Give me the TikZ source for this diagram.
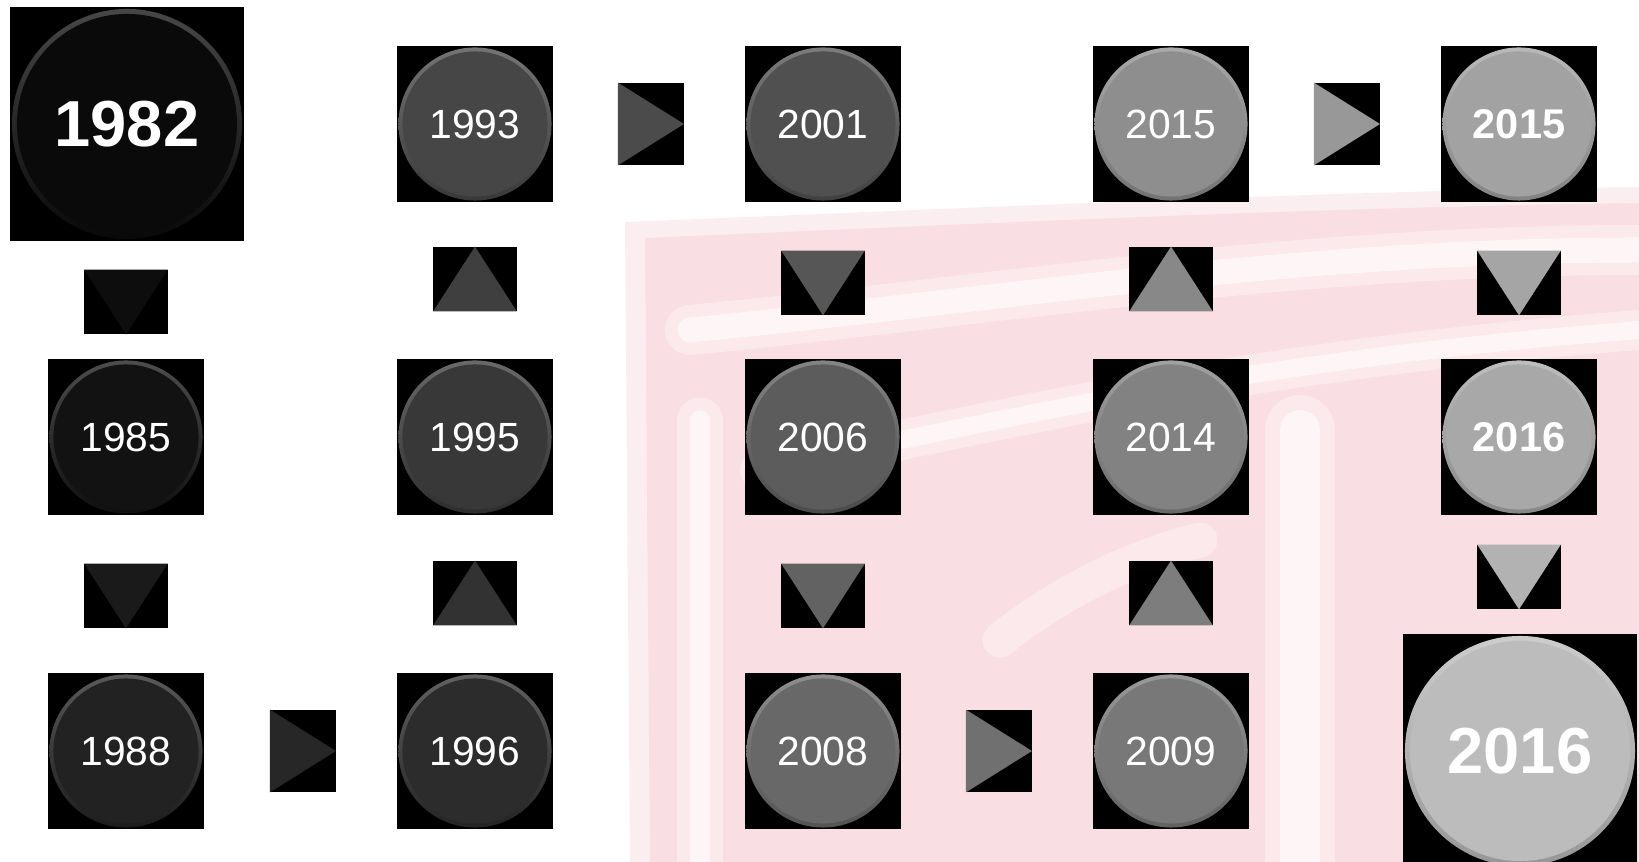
\documentclass[tikz,border=0pt]{standalone}
\usepackage{fontspec}
\setmainfont{Liberation Sans}
\usetikzlibrary{positioning, calc}
\definecolor{wmpink}{HTML}{F9DEE3}
\definecolor{tone1982}{HTML}{0A0A0A}
\definecolor{tone1985}{HTML}{121212}
\definecolor{tone1988}{HTML}{222222}
\definecolor{tone1996}{HTML}{2C2C2C}
\definecolor{tone1995}{HTML}{383838}
\definecolor{tone1993}{HTML}{464646}
\definecolor{tone2001}{HTML}{505050}
\definecolor{tone2006}{HTML}{5C5C5C}
\definecolor{tone2008}{HTML}{686868}
\definecolor{tone2009}{HTML}{787878}
\definecolor{tone2014}{HTML}{828282}
\definecolor{tone2015}{HTML}{8E8E8E}
\definecolor{tone2015b}{HTML}{A2A2A2}
\definecolor{tone2016}{HTML}{A8A8A8}
\definecolor{tone2016b}{HTML}{BCBCBC}
\newcommand{\yearfont}{\fontsize{11.6}{13}\selectfont}
\newcommand{\boldyearfont}{\fontsize{11.8}{13}\selectfont\bfseries}
\newcommand{\bigyearfont}{\fontsize{18.5}{20}\selectfont\bfseries}
\newcommand{\yearring}[3]{%
  \shade[top color=#1!75!white, bottom color=#1!80!black]
    (path picture bounding box.center) circle (#2);
  \fill[#1] (path picture bounding box.center) circle (#3);}
\tikzset{
  yearbox/.style={rectangle, fill=black, inner sep=0pt,
    minimum size=1.557cm, text=white, font=\yearfont,
    path picture={\yearring{#1}{0.765cm}{0.725cm}}},
  bigyear/.style={rectangle, fill=black, inner sep=0pt,
    minimum size=2.33cm, text=white, font=\bigyearfont,
    path picture={\yearring{#1}{1.15cm}{1.10cm}}},
  arrdown/.style={rectangle, fill=black, inner sep=0pt,
    minimum width=0.836cm, minimum height=0.648cm,
    path picture={\fill[#1] (path picture bounding box.north west)
      -- (path picture bounding box.north east)
      -- (path picture bounding box.south) -- cycle;}},
  arrup/.style={rectangle, fill=black, inner sep=0pt,
    minimum width=0.836cm, minimum height=0.648cm,
    path picture={\fill[#1] (path picture bounding box.south west)
      -- (path picture bounding box.south east)
      -- (path picture bounding box.north) -- cycle;}},
  arrright/.style={rectangle, fill=black, inner sep=0pt,
    minimum width=0.66cm, minimum height=0.826cm,
    path picture={\fill[#1] (path picture bounding box.north west)
      -- (path picture bounding box.south west)
      -- (path picture bounding box.east) -- cycle;}},
  streak/.style={white, opacity=0.35, line cap=round},
  core/.style={white, opacity=0.55, line cap=round}
}

\begin{document}
\begin{tikzpicture}[x=0.01cm, y=-0.01cm]
  \useasboundingbox[fill=white] (0,0) rectangle (1639,862);

  % Watermark
  \fill[wmpink, opacity=0.5] (625,222) .. controls (1000,207) and (1300,192) .. (1639,187)
    -- (1639,862) -- (630,862) -- cycle;
  \fill[wmpink] (645,238) .. controls (1000,223) and (1300,208) .. (1639,203)
    -- (1639,862) -- (650,862) -- cycle;
  \draw[streak, line width=0.5cm] (690,330) .. controls (1000,300) and (1300,250) .. (1639,250);
  \draw[core, line width=0.25cm] (690,330) .. controls (1000,300) and (1300,250) .. (1639,250);
  \draw[streak, line width=0.4cm] (760,470) .. controls (1000,420) and (1250,360) .. (1639,330);
  \draw[core, line width=0.18cm] (760,470) .. controls (1000,420) and (1250,360) .. (1639,330);
  \draw[streak, line width=0.7cm] (1300,430) -- (1300,862);
  \draw[core, line width=0.4cm] (1300,430) -- (1300,862);
  \draw[streak, line width=0.45cm] (700,420) -- (700,862);
  \draw[core, line width=0.2cm] (700,420) -- (700,862);
  \draw[streak, line width=0.35cm] (1000,640) .. controls (1050,600) and (1120,560) .. (1200,540);

  % Years, first row
  \node[bigyear=tone1982] (y1982) at (127,124) {1982};
  \node[yearbox=tone1993] (y1993) at (475,124) {1993};
  \node[yearbox=tone2001] (y2001) at (823,124) {2001};
  \node[yearbox=tone2015] (y2015a) at (1171,124) {2015};
  \node[yearbox=tone2015b, font=\boldyearfont] (y2015b) at (1519,124) {2015};

  % Years, second row
  \node[yearbox=tone1985] (y1985) at (126,437) {1985};
  \node[yearbox=tone1995] (y1995) at (475,437) {1995};
  \node[yearbox=tone2006] (y2006) at (823,437) {2006};
  \node[yearbox=tone2014] (y2014) at (1171,437) {2014};
  \node[yearbox=tone2016, font=\boldyearfont] (y2016a) at (1519,437) {2016};

  % Years, third row
  \node[yearbox=tone1988] (y1988) at (126,751) {1988};
  \node[yearbox=tone1996] (y1996) at (475,751) {1996};
  \node[yearbox=tone2008] (y2008) at (823,751) {2008};
  \node[yearbox=tone2009] (y2009) at (1171,751) {2009};
  \node[bigyear=tone2016b] (y2016b) at (1520,751) {2016};

  % Arrows
  \node[arrdown=tone1982!60!tone1985] (a1) at (126,302) {};
  \node[arrdown=tone1985!50!tone1988] (a2) at (126,596) {};
  \node[arrright=tone1988!50!tone1996] (a3) at (303,751) {};
  \node[arrup=tone1996!50!tone1995] (a4) at (475,593) {};
  \node[arrup=tone1995!50!tone1993] (a5) at (475,279) {};
  \node[arrright=tone1993!50!tone2001] (a6) at (651,124) {};
  \node[arrdown=tone2001!50!tone2006] (a7) at (823,283) {};
  \node[arrdown=tone2006!50!tone2008] (a8) at (823,596) {};
  \node[arrright=tone2008!50!tone2009] (a9) at (999,751) {};
  \node[arrup=tone2009!50!tone2014] (a10) at (1171,593) {};
  \node[arrup=tone2014!50!tone2015] (a11) at (1171,279) {};
  \node[arrright=tone2015!50!tone2015b] (a12) at (1347,124) {};
  \node[arrdown=tone2015b!50!tone2016] (a13) at (1519,283) {};
  \node[arrdown=tone2016!50!tone2016b] (a14) at (1519,577) {};
\end{tikzpicture}
\end{document}
